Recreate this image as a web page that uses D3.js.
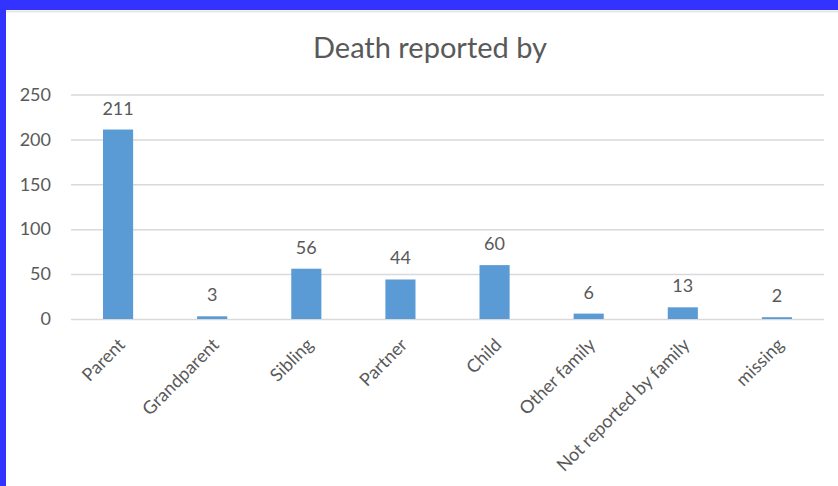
<!DOCTYPE html>
<html><head><meta charset="utf-8">
<script src="https://cdn.jsdelivr.net/npm/d3@7"></script>
<style>body{margin:0;background:#fff}svg{display:block}</style>
</head><body>
<svg id="c" width="838" height="486"></svg>
<script>
const categories = ["Parent","Grandparent","Sibling","Partner","Child","Other family","Not reported by family","missing"];
const values = [211,3,56,44,60,6,13,2];
const yTicks = [0,50,100,150,200,250];
const title = "Death reported by";

const svg = d3.select("#c");
const font = "Lato, 'Open Sans', sans-serif";
const textColor = "#595959";

// frame
svg.append("rect").attr("x",0).attr("y",0).attr("width",838).attr("height",486).attr("fill","#3333ff");
svg.append("rect").attr("x",6).attr("y",10).attr("width",832).attr("height",476).attr("fill","#ffffff");
svg.append("line").attr("x1",6).attr("x2",838).attr("y1",11.5).attr("y2",11.5).attr("stroke","#e6e6e6").attr("stroke-width",2);

const x = d3.scaleBand().domain(categories).range([71,824]).paddingInner(0.68).paddingOuter(0.34);
const y = d3.scaleLinear().domain([0,250]).range([319,94.5]);

svg.append("text").attr("x",430).attr("y",58).attr("text-anchor","middle")
  .attr("font-family",font).attr("font-size",29).attr("fill",textColor).text(title);

const yAxis = svg.append("g").attr("transform","translate(71,0)")
  .call(d3.axisLeft(y).tickValues(yTicks).tickSize(-753).tickPadding(20));
yAxis.select(".domain").remove();
yAxis.selectAll(".tick line").attr("stroke","#d9d9d9").attr("stroke-width",1.5);
yAxis.selectAll(".tick text").attr("font-family",font).attr("font-size",18).attr("fill",textColor);

svg.append("g").selectAll("rect").data(values).join("rect")
  .attr("x",(d,i)=>x(categories[i])).attr("width",x.bandwidth())
  .attr("y",d=>y(d)).attr("height",d=>y(0)-y(d)).attr("fill","#5b9bd5");

svg.append("g").selectAll("text").data(values).join("text")
  .attr("x",(d,i)=>x(categories[i])+x.bandwidth()/2).attr("y",d=>y(d)-15)
  .attr("text-anchor","middle").attr("font-family",font).attr("font-size",18).attr("fill",textColor)
  .text(d=>d);

const xAxis = svg.append("g").attr("transform","translate(0,319)")
  .call(d3.axisBottom(x).tickSize(0).tickPadding(0));
xAxis.select(".domain").remove();
xAxis.selectAll(".tick text")
  .attr("font-family",font).attr("font-size",18).attr("fill",textColor)
  .attr("text-anchor","end").attr("dy",0)
  .attr("transform","translate(8,27) rotate(-45)");
</script>
</body></html>
